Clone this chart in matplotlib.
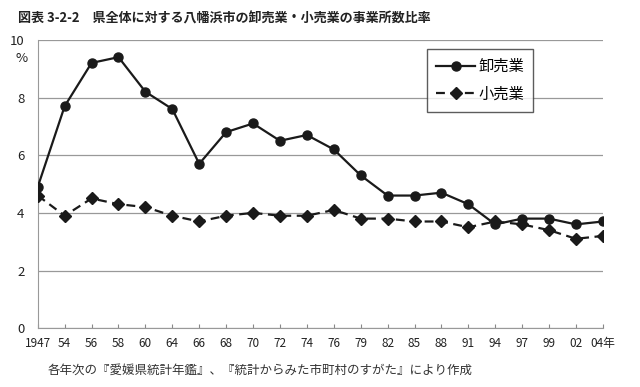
"""
Ratio of Yawatahama city wholesale/retail establishments to prefecture total.
"""
import matplotlib
matplotlib.use('Agg')
import matplotlib.pyplot as plt

plt.rcParams['font.family'] = ['Noto Sans CJK JP', 'DejaVu Sans']

years = ['1947', '54', '56', '58', '60', '64', '66', '68', '70', '72', '74',
         '76', '79', '82', '85', '88', '91', '94', '97', '99', '02', '04年']
wholesale = [4.9, 7.7, 9.2, 9.4, 8.2, 7.6, 5.7, 6.8, 7.1, 6.5, 6.7,
             6.2, 5.3, 4.6, 4.6, 4.7, 4.3, 3.6, 3.8, 3.8, 3.6, 3.7]
retail = [4.6, 3.9, 4.5, 4.3, 4.2, 3.9, 3.7, 3.9, 4.0, 3.9, 3.9,
          4.1, 3.8, 3.8, 3.7, 3.7, 3.5, 3.7, 3.6, 3.4, 3.1, 3.2]
yticks = [0, 2, 4, 6, 8, 10]

fig = plt.figure(figsize=(6.4, 3.87), dpi=100)
ax = fig.add_axes([0.059, 0.152, 0.883, 0.745])

x = list(range(len(years)))
ax.plot(x, wholesale, color='#1a1a1a', linewidth=1.6, marker='o',
        markersize=6.5, label='卸売業', zorder=4)
ax.plot(x, retail, color='#1a1a1a', linewidth=1.6, linestyle=(0, (4, 2.5)),
        marker='D', markersize=6.5, label='小売業', zorder=3)

ax.set_xlim(0, len(years) - 1)
ax.set_ylim(0, 10)
ax.set_yticks(yticks)
ax.set_yticklabels([str(v) for v in yticks], fontsize=9.5, color='#222222')
ax.set_xticks(x)
ax.set_xticklabels(years, fontsize=8.5, color='#222222')
ax.tick_params(axis='y', length=0, pad=9.5)
ax.tick_params(axis='x', direction='in', length=3, color='#888888', pad=6)
ax.grid(axis='y', color='#999999', linewidth=0.9)
ax.set_axisbelow(True)
for side in ['top', 'right']:
    ax.spines[side].set_visible(False)
ax.spines['left'].set_color('#999999')
ax.spines['bottom'].set_color('#999999')

ax.text(-0.028, 0.934, '%', transform=ax.transAxes, fontsize=9.5,
        color='#222222', ha='center', va='center')

leg = ax.legend(loc='upper left', bbox_to_anchor=(0.688, 0.969),
                fontsize=11, frameon=True, fancybox=False, handlelength=2.6,
                labelspacing=0.7, borderpad=0.6, handletextpad=0.2,
                borderaxespad=0)
leg.get_frame().set_edgecolor('#333333')
leg.get_frame().set_linewidth(1.0)

fig.text(0.028, 0.953, '図表 3-2-2　県全体に対する八幡浜市の卸売業・小売業の事業所数比率',
         fontsize=9.4, fontweight='bold', color='#222222', va='center')
fig.text(0.074, 0.044, '各年次の『愛媛県統計年鑑』、『統計からみた市町村のすがた』により作成',
         fontsize=9, color='#333333', va='center')

fig.savefig('out.png', dpi=100)
